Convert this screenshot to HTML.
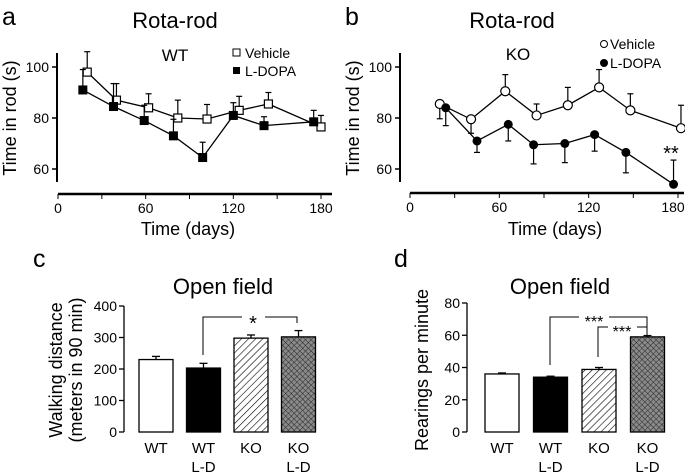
<!DOCTYPE html>
<html><head><meta charset="utf-8"><style>
body{margin:0;background:#fff}
svg{display:block;font-family:"Liberation Sans",Arial,sans-serif}
</style></head><body>
<svg id="fig" width="685" height="472" viewBox="0 0 685 472" xmlns="http://www.w3.org/2000/svg">
<defs>
<pattern id="diag" patternUnits="userSpaceOnUse" width="5" height="5" patternTransform="rotate(45)">
<rect width="5" height="5" fill="#fff"/><line x1="0" y1="0" x2="0" y2="5" stroke="#000" stroke-width="1.2"/></pattern>
<pattern id="cross" patternUnits="userSpaceOnUse" width="4" height="4" patternTransform="rotate(45)">
<rect width="4" height="4" fill="#8a8a8a"/><path d="M0 0H4M0 0V4" stroke="#222" stroke-width="0.9"/></pattern>
</defs>
<g id="root"></g>
</svg>
<script>
// Panel a (WT) data
const aVehDays=[20,40,62,82,102,124,144,180];
const aVehVal=[98,87,84,80,79.6,83,85.5,76.5];
const aVehErr=[8,6.5,5.5,7,5.7,5.5,4.5,4.5];
const aLdDays=[17,38,59,79,99,120,141,175];
const aLdVal=[91,84.5,79,73,64.5,81,77,78.5];
const aLdErr=[8,9,6,6.5,6,5,3.5,4.5];
// Panel b (KO) data
const bVehDays=[20,41,64,85,106,127,148,182];
const bVehVal=[85.5,79.5,90.5,81,85,92,83,76];
const bVehErr=[-5.8,-5.5,6.5,4.5,7,7,6.5,9];
const bLdDays=[24,45,66,83,104,124,145,177];
const bLdVal=[84,71,77.5,69.5,70,73.5,66.5,54];
const bLdErr=[-7,-4.5,-6.5,-7.5,-7.5,-6.5,-8,9.5];
const xTicks=[0,60,120,180];
const yTicksLine=[60,80,100];
// Panel c
const barCats=["WT","WT|L-D","KO","KO|L-D"];
const cVals=[230,203,298,302];
const cErrs=[10,15,10,20];
const cTicks=[0,100,200,300,400];
// Panel d
const dVals=[36,34,38.8,59];
const dErrs=[0.6,0.6,1.2,0.8];
const dTicks=[0,20,40,60,80];

const NS="http://www.w3.org/2000/svg";
const root=document.getElementById('root');
function el(tag,attrs,parent,text){const e=document.createElementNS(NS,tag);for(const k in attrs)e.setAttribute(k,attrs[k]);if(text!==undefined)e.textContent=text;(parent||root).appendChild(e);return e;}

function linePanel(o){
  const g=el('g',{});
  
  
  const X=d=>o.x0+d*o.xs, Y=v=>o.y80-(v-80)*2.55;
  const ya=el('line',{x1:o.yaX,y1:53,x2:o.yaX,y2:182,stroke:'#000','stroke-width':2},g);
  
  yTicksLine.forEach(v=>{el('line',{x1:o.yaX-5,y1:Y(v),x2:o.yaX,y2:Y(v),stroke:'#000','stroke-width':1.5},g);
    const t=el('text',{x:o.yaX-8,y:Y(v)+5,'text-anchor':'end','font-size':14},g,v);
    });
  const xa=el('line',{x1:o.x0,y1:o.xaY,x2:o.xEnd,y2:o.xaY,stroke:'#000','stroke-width':2.5},g);
  
  [0,30,60,90,120,150,180].forEach(d=>el('line',{x1:X(d),y1:o.xaY,x2:X(d),y2:o.xaY+5,stroke:'#000','stroke-width':1},g));
  xTicks.forEach(d=>{const t=el('text',{x:Math.min(X(d),673),y:o.xaY+19,'text-anchor':'middle','font-size':14},g,d);
    });
  function series(days,vals,errs,marker,name){
    const sg=el('g',{},g);
    days.forEach((d,i)=>{const e=errs[i];el('line',{x1:X(d),y1:Y(vals[i]),x2:X(d),y2:Y(vals[i]+e),stroke:'#000','stroke-width':1.2},sg);
      el('line',{x1:X(d)-3,y1:Y(vals[i]+e),x2:X(d)+3,y2:Y(vals[i]+e),stroke:'#000','stroke-width':1.2},sg);});
    el('polyline',{points:days.map((d,i)=>X(d)+','+Y(vals[i])).join(' '),fill:'none',stroke:'#000','stroke-width':1.3},sg);
    days.forEach((d,i)=>{let m;
      if(marker==='sqo')m=el('rect',{x:X(d)-4,y:Y(vals[i])-4,width:8,height:8,fill:'#fff',stroke:'#000','stroke-width':1.2},sg);
      else if(marker==='sqf')m=el('rect',{x:X(d)-4.5,y:Y(vals[i])-4.5,width:9,height:9,fill:'#000'},sg);
      else if(marker==='co')m=el('circle',{cx:X(d),cy:Y(vals[i]),r:4.5,fill:'#fff',stroke:'#000','stroke-width':1.2},sg);
      else m=el('circle',{cx:X(d),cy:Y(vals[i]),r:4.5,fill:'#000'},sg);
      });
  }
  series(o.vd,o.vv,o.ve,o.mk[0],'vehicle-series');
  series(o.ld,o.lv,o.le,o.mk[1],'l-dopa-series');
  return g;
}
function txt(x,y,s,size,anchor,name,extra){const t=el('text',Object.assign({x:x,y:y,'font-size':size,'text-anchor':anchor||'middle'},extra||{}),root,s);
  return t;}

linePanel({name:'panel-a-chart',x0:58,xs:(321-58)/180,y80:118,yaX:57,xaY:194,xEnd:332,vd:aVehDays,vv:aVehVal,ve:aVehErr,ld:aLdDays,lv:aLdVal,le:aLdErr,mk:['sqo','sqf']});
linePanel({name:'panel-b-chart',x0:410,xs:(678-410)/180,y80:118,yaX:400,xaY:193,xEnd:684,vd:bVehDays,vv:bVehVal,ve:bVehErr,ld:bLdDays,lv:bLdVal,le:bLdErr,mk:['co','cf']});

txt(2,25,'a',25,'start','panel-label-a');
txt(175,28,'Rota-rod',22,'middle','panel-a-title');
txt(175,61,'WT',17,'middle','group-label-wt');
el('rect',{x:233,y:49,width:7,height:7,fill:'#fff',stroke:'#000'});
txt(245,58,'Vehicle',14,'start','legend-vehicle');
el('rect',{x:233,y:67,width:7,height:7,fill:'#000'});
txt(245,76,'L-DOPA',14,'start','legend-l-dopa');
txt(188,235,'Time (days)',18,'middle','x-axis-title-a');
txt(16,118,'Time in rod (s)',18,'middle','y-axis-title-a',{transform:'rotate(-90 16 118)'});

txt(345,25,'b',25,'start','panel-label-b');
txt(512,28,'Rota-rod',22,'middle','panel-b-title');
txt(518,60,'KO',17,'middle','group-label-ko');
el('circle',{cx:604,cy:44,r:3.5,fill:'#fff',stroke:'#000'});
txt(610,49,'Vehicle',14,'start','legend-vehicle-b');
el('circle',{cx:604,cy:63,r:4,fill:'#000'});
txt(610,68,'L-DOPA',14,'start','legend-l-dopa-b');
txt(671,160,'**',20,'middle','significance-b');
txt(555,235,'Time (days)',18,'middle','x-axis-title-b');
txt(359,118,'Time in rod (s)',18,'middle','y-axis-title-b',{transform:'rotate(-90 359 118)'});

function barPanel(o){
  const g=el('g',{});
  const Y=v=>o.base-v*o.ys;
  el('line',{x1:o.ax,y1:Y(o.ticks[o.ticks.length-1]),x2:o.ax,y2:o.base,stroke:'#000','stroke-width':1.3},g);
  o.ticks.forEach(v=>{el('line',{x1:o.ax-5,y1:Y(v),x2:o.ax,y2:Y(v),stroke:'#000','stroke-width':1.3},g);
    const t=el('text',{x:o.ax-7,y:Y(v)+5,'text-anchor':'end','font-size':14},g,v);
    });
  const fills=['#fff','#000','url(#diag)','url(#cross)'];
  o.vals.forEach((v,i)=>{const x=o.x0+i*o.step;
    const b=el('rect',{x:x,y:Y(v),width:o.w,height:o.base-Y(v),fill:fills[i],stroke:'#000','stroke-width':1.3},g);
    
    const cx=x+o.w/2;
    el('line',{x1:cx,y1:Y(v),x2:cx,y2:Y(v+o.errs[i]),stroke:'#000','stroke-width':1.3},g);
    el('line',{x1:cx-4,y1:Y(v+o.errs[i]),x2:cx+4,y2:Y(v+o.errs[i]),stroke:'#000','stroke-width':1.3},g);
    const parts=barCats[i].split('|');
    parts.forEach((p,j)=>{const t=el('text',{x:cx,y:453+j*19,'text-anchor':'middle','font-size':15},g,p);
      });
  });
  return g;
}
barPanel({name:'panel-c-chart',ax:124,base:432,ys:(432-306)/400,x0:139,step:47.5,w:34,vals:cVals,errs:cErrs,ticks:cTicks});
barPanel({name:'panel-d-chart',ax:467,base:432,ys:(432-303)/80,x0:485,step:48.5,w:34,vals:dVals,errs:dErrs,ticks:dTicks});

txt(33,267,'c',25,'start','panel-label-c');
txt(223,294,'Open field',22,'middle','panel-c-title');
txt(62,370,'Walking distance',18,'middle','y-axis-title-c-line1',{transform:'rotate(-90 62 370)'});
txt(82,370,'(meters in 90 min)',18,'middle','y-axis-title-c-line2',{transform:'rotate(-90 82 370)'});
el('path',{d:'M203 355V317H242M265 317H297V323',fill:'none',stroke:'#000','stroke-width':1});
txt(253,330,'*',20,'middle','significance-c');

txt(394,267,'d',25,'start','panel-label-d');
txt(560,294,'Open field',22,'middle','panel-d-title');
txt(428,370,'Rearings per minute',18,'middle','y-axis-title-d',{transform:'rotate(-90 428 370)'});
el('path',{d:'M550 365V317H579M609 317H647V335',fill:'none',stroke:'#000','stroke-width':1});
el('path',{d:'M598 357V327H608M637 327H647',fill:'none',stroke:'#000','stroke-width':1});
txt(594,327,'***',16,'middle','significance-d-1');
txt(622,337,'***',16,'middle','significance-d-2');
</script>
</body></html>
